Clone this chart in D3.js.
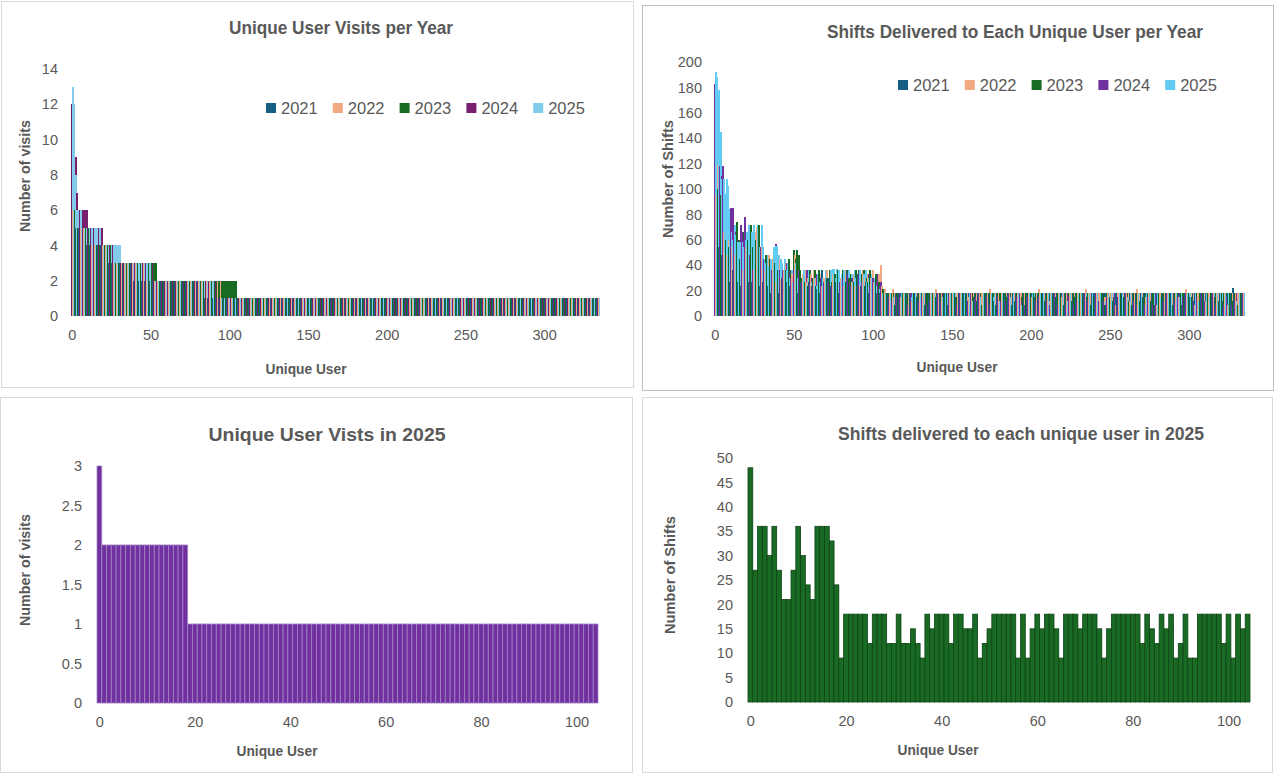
<!DOCTYPE html>
<html>
<head>
<meta charset="utf-8">
<script src="https://cdn.jsdelivr.net/npm/d3@7"></script>
<style>
  body { margin: 0; background: #fff; }
  svg text { fill: #595959; font-family: "Liberation Sans", Arial, sans-serif; }
  .title { font-weight: bold; font-size: 18.5px; }
  .axtitle { font-weight: bold; font-size: 14.5px; }
  .tick text { font-size: 14.5px; }
  .legend text { font-size: 16.5px; }
</style>
</head>
<body>
<svg id="chart" width="1280" height="774"></svg>
<script>
var years = ["2021", "2022", "2023", "2024", "2025"];

// visits per unique user, as [visits, number of users] runs, users sorted high to low
var visitRuns2021 = [[6, 2], [5, 8], [4, 10], [3, 20], [2, 45], [1, 251]];
var visitRuns2022 = [[7, 1], [6, 3], [5, 8], [4, 12], [3, 24], [2, 50], [1, 238]];
var visitRuns2023 = [[9, 1], [8, 1], [6, 2], [5, 10], [4, 14], [3, 26], [2, 51], [1, 231]];
var visitRuns2024 = [[12, 1], [11, 1], [9, 1], [7, 1], [6, 6], [5, 10], [4, 10], [3, 22], [2, 40], [1, 244]];
var visitRuns2025 = [[13, 1], [12, 1], [8, 1], [6, 4], [5, 12], [4, 12], [3, 20], [2, 40], [1, 245]];

// shifts delivered per unique user
var shifts2021 = [
  68, 60, 36, 54, 40, 48, 18, 45, 36, 30,
  27, 45, 36, 40, 30, 27, 36, 24, 30, 27,
  36, 18, 27, 33, 27, 18, 30, 27, 36, 24,
  18, 27, 30, 18, 24, 27, 18, 30, 18, 27,
  24, 18, 27, 30, 18, 21, 27, 18, 24, 30,
  18, 27, 24, 18, 30, 27, 18, 24, 21, 18,
  27, 18, 24, 30, 18, 21, 27, 18, 36, 24,
  18, 27, 30, 18, 24, 33, 18, 27, 21, 18,
  30, 24, 18, 27, 36, 18, 24, 30, 21, 18,
  27, 33, 18, 24, 30, 18, 27, 21, 18, 24,
  18, 27, 21, 18, 24, 18, 15, 18, 12, 18,
  18, 18, 12, 18, 18, 18, 9, 18, 18, 18, 15, 18, 18, 18, 18, 12, 18, 18, 18, 18,
  18, 9, 18, 18, 18, 18, 18, 15, 18, 18, 18, 18, 12, 18, 18, 18, 18, 18, 9, 18,
  18, 18, 18, 15, 18, 18, 18, 18, 18, 12, 18, 18, 18, 18, 9, 18, 18, 18, 18, 18,
  15, 18, 18, 18, 18, 18, 18, 12, 18, 18, 18, 9, 18, 18, 18, 18, 18, 15, 18, 18,
  18, 18, 12, 18, 18, 18, 18, 18, 18, 9, 18, 18, 18, 15, 18, 18, 18, 18, 18, 12,
  18, 18, 18, 18, 9, 18, 18, 18, 18, 18, 15, 18, 18, 18, 18, 12, 18, 18, 18, 18,
  18, 18, 9, 18, 18, 18, 15, 18, 18, 18, 18, 18, 12, 18, 18, 18, 18, 18, 9, 18,
  18, 18, 18, 15, 18, 18, 18, 12, 18, 18, 18, 18, 18, 18, 9, 18, 18, 18, 18, 15,
  18, 18, 18, 18, 12, 18, 18, 18, 18, 9, 18, 18, 18, 18, 18, 15, 18, 18, 18, 18,
  12, 18, 18, 18, 18, 18, 9, 18, 18, 18, 18, 15, 18, 18, 18, 18, 12, 18, 18, 18,
  18, 18, 9, 18, 18, 18, 18, 15, 18, 18, 18, 18, 12, 18, 18, 18, 18, 18, 22, 18,
  18, 18, 12, 18, 18, 18
];
var shifts2022 = [
  125, 95, 120, 78, 72, 60, 66, 54, 48, 60,
  45, 54, 66, 48, 36, 54, 42, 60, 36, 48,
  54, 36, 45, 63, 42, 36, 66, 70, 48, 36,
  54, 45, 36, 42, 48, 36, 30, 45, 36, 27,
  36, 45, 30, 27, 36, 42, 30, 36, 27, 33,
  52, 48, 30, 27, 36, 24, 33, 27, 36, 30,
  24, 33, 27, 36, 30, 24, 27, 33, 24, 30,
  27, 36, 24, 30, 27, 33, 24, 36, 27, 24,
  30, 27, 24, 36, 27, 30, 24, 27, 33, 24,
  30, 36, 24, 27, 36, 30, 24, 33, 27, 30,
  36, 27, 24, 30, 33, 40, 24, 18, 21, 18,
  18, 18, 18, 21, 18, 18, 18, 18, 15, 18, 18, 18, 18, 18, 18, 12, 18, 18, 18, 18,
  18, 18, 18, 18, 9, 18, 18, 18, 18, 18, 21, 18, 18, 18, 18, 18, 15, 18, 18, 18,
  18, 18, 12, 18, 18, 18, 18, 18, 18, 18, 18, 15, 18, 18, 18, 18, 18, 9, 18, 18,
  18, 18, 18, 18, 21, 18, 18, 18, 18, 15, 18, 18, 18, 18, 18, 18, 12, 18, 18, 18,
  18, 18, 18, 18, 18, 9, 18, 18, 18, 18, 18, 15, 18, 18, 18, 21, 18, 18, 18, 18,
  18, 18, 12, 18, 18, 18, 18, 18, 18, 18, 15, 18, 18, 18, 18, 18, 18, 9, 18, 18,
  18, 18, 18, 18, 18, 21, 18, 18, 18, 18, 12, 18, 18, 18, 18, 18, 18, 15, 18, 18,
  18, 18, 18, 18, 9, 18, 18, 18, 18, 18, 18, 18, 18, 12, 18, 18, 18, 21, 18, 18,
  18, 18, 18, 15, 18, 18, 18, 18, 18, 18, 9, 18, 18, 18, 18, 18, 18, 18, 12, 18,
  18, 18, 18, 18, 15, 18, 18, 18, 21, 18, 18, 18, 18, 18, 9, 18, 18, 18, 18, 18,
  18, 12, 18, 18, 18, 18, 18, 15, 18, 18, 18, 18, 18, 18, 18, 9, 18, 18, 18, 18,
  18, 18, 18, 15, 18, 18
];
var shifts2023 = [
  145, 130, 100, 90, 95, 75, 72, 60, 66, 54,
  60, 72, 54, 48, 74, 60, 45, 54, 66, 48,
  54, 60, 45, 72, 54, 48, 60, 45, 72, 54,
  45, 36, 48, 42, 36, 45, 30, 36, 42, 27,
  36, 30, 42, 36, 27, 36, 30, 45, 36, 27,
  52, 45, 52, 48, 36, 30, 36, 27, 30, 24,
  36, 27, 30, 36, 24, 33, 36, 27, 30, 24,
  36, 30, 24, 36, 27, 30, 33, 24, 36, 27,
  30, 36, 24, 27, 36, 30, 33, 24, 27, 36,
  30, 36, 27, 33, 36, 24, 30, 27, 36, 24,
  30, 27, 33, 24, 27, 18, 21, 18, 15, 18,
  18, 12, 18, 18, 9, 18, 18, 15, 18, 18, 12, 18, 18, 18, 9, 18, 18, 18, 15, 18,
  12, 18, 18, 9, 18, 18, 18, 12, 18, 18, 15, 18, 9, 18, 18, 18, 12, 18, 18, 18,
  18, 9, 18, 15, 18, 18, 12, 18, 18, 18, 9, 18, 18, 18, 15, 18, 12, 18, 18, 9,
  18, 18, 18, 12, 18, 15, 18, 18, 9, 18, 18, 18, 12, 18, 18, 15, 18, 18, 9, 18,
  12, 18, 18, 18, 15, 18, 9, 18, 18, 12, 18, 18, 18, 18, 9, 18, 15, 18, 18, 12,
  18, 18, 9, 18, 18, 18, 15, 18, 12, 18, 18, 9, 18, 18, 18, 18, 12, 18, 15, 18,
  9, 18, 18, 18, 12, 18, 18, 18, 9, 18, 15, 18, 18, 12, 18, 18, 18, 9, 18, 18,
  15, 18, 12, 18, 18, 9, 18, 18, 18, 15, 18, 18, 12, 18, 9, 18, 18, 18, 18, 12,
  18, 15, 18, 9, 18, 18, 12, 18, 18, 18, 15, 18, 9, 18, 18, 12, 18, 18, 18, 18,
  9, 18, 15, 18, 12, 18, 18, 18, 9, 18, 18, 18, 15, 12, 18, 18, 9, 18, 18, 18,
  12, 18, 18, 15, 18, 9, 18, 18, 18, 12, 18, 18, 18, 9, 18, 15, 18, 18, 12, 18,
  18, 9, 18, 18, 15, 18
];
var shifts2024 = [
  183, 160, 130, 118, 110, 118, 90, 102, 90, 72,
  85, 85, 72, 66, 60, 54, 72, 66, 60, 78,
  54, 66, 48, 60, 36, 54, 45, 66, 42, 54,
  36, 45, 36, 42, 36, 30, 36, 45, 57, 36,
  45, 36, 27, 36, 30, 42, 27, 36, 30, 27,
  36, 27, 30, 36, 24, 27, 30, 24, 36, 27,
  27, 30, 24, 27, 33, 24, 27, 30, 24, 27,
  30, 24, 27, 33, 24, 30, 27, 24, 30, 27,
  24, 30, 27, 24, 33, 27, 24, 30, 27, 24,
  27, 33, 24, 27, 30, 24, 27, 33, 24, 27,
  30, 24, 27, 33, 24, 27, 18, 15, 18, 12,
  15, 18, 12, 12, 18, 15, 9, 18, 12, 15, 18, 12, 9, 15, 18, 12, 15, 18, 9, 12,
  18, 15, 12, 18, 9, 15, 12, 18, 15, 12, 9, 18, 15, 12, 18, 12, 15, 9, 18, 12,
  15, 18, 12, 9, 15, 18, 12, 15, 9, 18, 12, 15, 18, 12, 9, 15, 12, 18, 15, 9,
  12, 18, 15, 12, 9, 18, 15, 12, 18, 15, 9, 12, 18, 15, 12, 9, 18, 12, 15, 18,
  9, 15, 12, 18, 12, 15, 9, 18, 15, 12, 18, 9, 15, 12, 18, 15, 12, 9, 18, 15,
  12, 18, 9, 15, 12, 18, 15, 9, 12, 18, 15, 12, 9, 18, 15, 12, 18, 9, 15, 12,
  18, 15, 9, 12, 18, 15, 12, 9, 18, 15, 12, 18, 9, 12, 15, 18, 12, 9, 15, 18,
  12, 15, 9, 18, 12, 15, 18, 9, 12, 15, 18, 12, 9, 15, 18, 12, 15, 9, 18, 12,
  15, 18, 9, 12, 15, 18, 12, 9, 15, 18, 12, 15, 9, 18, 12, 15, 18, 9, 12, 15,
  18, 12, 9, 15, 18, 12, 15, 9, 18, 12, 15, 18, 9, 12, 18, 15, 12, 9, 18, 15,
  12, 18, 9, 15, 12, 18, 15, 9, 12, 18, 15, 12, 9, 18, 15, 12, 18, 9, 15, 12,
  18, 15, 9, 12, 18, 15
];
var shifts2025 = [
  192, 188, 178, 145, 108, 108, 96, 108, 102, 84,
  66, 60, 72, 64, 58, 58, 58, 58, 54, 60,
  66, 72, 72, 66, 72, 60, 66, 72, 54, 72,
  54, 45, 42, 48, 39, 45, 42, 54, 55, 55,
  48, 45, 42, 36, 45, 36, 42, 30, 36, 27,
  36, 42, 30, 36, 27, 33, 36, 30, 27, 36,
  30, 27, 36, 30, 24, 33, 27, 36, 30, 27,
  36, 30, 27, 36, 37, 37, 30, 37, 36, 27,
  33, 36, 27, 30, 36, 24, 33, 27, 36, 30,
  27, 36, 30, 24, 33, 36, 27, 30, 24, 33,
  27, 30, 24, 27, 21, 18, 18, 15, 18, 18,
  18, 18, 18, 15, 18, 18, 18, 18, 18, 12, 18, 18, 18, 18, 15, 18, 18, 18, 18, 18,
  18, 15, 18, 18, 18, 18, 18, 18, 12, 18, 18, 18, 18, 18, 15, 18, 18, 18, 18, 18,
  9, 18, 18, 18, 18, 15, 18, 18, 18, 18, 18, 18, 18, 12, 18, 18, 18, 18, 15, 18,
  18, 18, 18, 18, 18, 18, 15, 18, 18, 18, 12, 18, 18, 18, 18, 18, 18, 15, 18, 18,
  18, 18, 18, 18, 9, 18, 18, 18, 15, 18, 18, 18, 18, 18, 18, 12, 18, 18, 18, 18,
  15, 18, 18, 18, 18, 18, 18, 18, 18, 15, 18, 18, 18, 12, 18, 18, 18, 18, 18, 18,
  18, 15, 18, 18, 18, 18, 9, 18, 18, 18, 18, 15, 18, 18, 18, 18, 18, 12, 18, 18,
  18, 18, 18, 15, 18, 18, 18, 18, 18, 18, 18, 15, 18, 18, 12, 18, 18, 18, 18, 18,
  18, 18, 15, 18, 18, 18, 18, 9, 18, 18, 18, 18, 15, 18, 18, 18, 18, 18, 12, 18,
  18, 18, 18, 18, 15, 18, 18, 18, 18, 18, 18, 18, 15, 18, 18, 18, 12, 18, 18, 18,
  18, 18, 18, 15, 18, 18, 18, 18, 18, 9, 18, 18, 18, 18, 15, 18, 18, 18, 18, 18,
  12, 18, 18, 18, 15, 18
];

// 2025 only
var visitRuns2025Users = [[3, 1], [2, 18], [1, 86]];
var shifts2025Users = [
  48, 27, 36, 36, 30, 36, 27, 21, 21, 27, 36, 30, 24, 21, 36, 36, 36, 33, 24, 9,
  18, 18, 18, 18, 18, 12, 18, 18, 18, 12, 12, 18, 12, 12, 15, 12, 9, 18, 15, 18,
  18, 18, 12, 18, 18, 15, 15, 18, 9, 12, 15, 18, 18, 18, 18, 18, 9, 18, 9, 15,
  18, 15, 18, 18, 15, 9, 18, 18, 18, 15, 18, 18, 18, 15, 9, 15, 18, 18, 18, 18,
  18, 18, 12, 18, 15, 12, 18, 15, 18, 9, 12, 18, 9, 9, 18, 18, 18, 18, 18, 12,
  18, 9, 18, 15, 18
];

var visitColors = ["#156082", "#F1A983", "#196B24", "#78206E", "#83CBEB"];
var shiftColors = ["#156082", "#F1A983", "#196B24", "#7030A0", "#61CBF3"];

var svg = d3.select("#chart");

function expandRuns(runs) {
  var out = [];
  runs.forEach(function (r) {
    for (var i = 0; i < r[1]; i++) out.push(r[0]);
  });
  return out;
}

function frame(x, y, w, h, stroke) {
  svg.append("rect")
    .attr("x", x).attr("y", y).attr("width", w).attr("height", h)
    .attr("fill", "#fff").attr("stroke", stroke).attr("stroke-width", 1);
}

// the source uses a narrow bold face; squeeze the bold sans to the same widths
function label(cls, x, y, txt, len, rotate) {
  var t = svg.append("text").attr("class", cls)
    .attr("text-anchor", "middle").attr("dy", "0.35em")
    .attr("textLength", len).attr("lengthAdjust", "spacingAndGlyphs")
    .text(txt);
  if (rotate) t.attr("transform", "translate(" + x + "," + y + ") rotate(-90)");
  else t.attr("x", x).attr("y", y);
}

function labels(p) {
  label("title", p.titleX, p.titleY, p.title, p.titleLen);
  label("axtitle", p.yTitleX, p.yTitleY, p.yTitle, p.yTitleLen, true);
  label("axtitle", p.xTitleX, p.xTitleY, "Unique User", 81);
}

// x labels sit at the centre of each user's band, so a linear scale over -0.5..n-0.5 lines up
function axes(n, xRange, yScale, xTicks, yTicks, yFmt, yPad) {
  var xl = d3.scaleLinear().domain([-0.5, n - 0.5]).range(xRange);
  var bottom = yScale.range()[0];
  var gx = svg.append("g")
    .attr("transform", "translate(0," + bottom + ")")
    .call(d3.axisBottom(xl).tickValues(xTicks).tickSize(0).tickPadding(14).tickFormat(d3.format("d")));
  gx.select(".domain").remove();
  var gy = svg.append("g")
    .attr("transform", "translate(" + xRange[0] + ",0)")
    .call(d3.axisLeft(yScale).tickValues(yTicks).tickSize(0).tickPadding(yPad).tickFormat(yFmt));
  gy.select(".domain").remove();
  svg.selectAll(".tick text").attr("fill", "#595959").attr("font-family", null).attr("font-size", null);
}

function legend(x0, y, step, colors) {
  var g = svg.append("g").attr("class", "legend");
  years.forEach(function (yr, i) {
    g.append("rect").attr("x", x0 + i * step).attr("y", y - 5).attr("width", 10).attr("height", 10)
      .attr("fill", colors[i]);
    g.append("text").attr("x", x0 + i * step + 15).attr("y", y).attr("dy", "0.36em").text(yr);
  });
}

function clustered(p) {
  var nUsers = d3.max(p.series, function (s) { return s.length; });
  var x0 = d3.scaleBand().domain(d3.range(nUsers)).range(p.xRange).padding(0);
  var x1 = d3.scaleBand().domain(years).range([0, x0.bandwidth()]);
  var y = d3.scaleLinear().domain([0, p.yMax]).range(p.yRange);

  // one row per (user, year), user-major so neighbouring years interleave like the source
  var rows = [];
  d3.range(nUsers).forEach(function (u) {
    p.series.forEach(function (vals, i) {
      if (u < vals.length) rows.push({ u: u, k: i, v: vals[u] });
    });
  });

  // sub-bars are a third of a pixel wide; widen them so each one is actually drawn
  var xRight = p.xRange[1];
  svg.append("g").attr("shape-rendering", "crispEdges")
    .selectAll("rect")
    .data(rows)
    .join("rect")
    .attr("x", function (d) { return Math.floor(x0(d.u) + x1(years[d.k])); })
    .attr("width", function (d) {
      var x = Math.floor(x0(d.u) + x1(years[d.k]));
      return Math.min(2, xRight - x);
    })
    .attr("y", function (d) { return Math.round(y(d.v)); })
    .attr("height", function (d) { return Math.round(y(0)) - Math.round(y(d.v)); })
    .attr("fill", function (d) { return p.colors[d.k]; });

  axes(nUsers, p.xRange, y, p.xTicks, p.yTicks, d3.format("d"), p.yPad);
}

function single(p) {
  var x = d3.scaleBand().domain(d3.range(p.values.length)).range(p.xRange).padding(0);
  var y = d3.scaleLinear().domain([0, p.yMax]).range(p.yRange);
  svg.append("g")
    .selectAll("rect")
    .data(p.values)
    .join("rect")
    .attr("x", function (d, i) { return x(i); })
    .attr("width", x.bandwidth())
    .attr("y", function (d) { return y(d); })
    .attr("height", function (d) { return y(0) - y(d); })
    .attr("fill", p.fill)
    .attr("stroke", p.stroke)
    .attr("stroke-width", 0.8);
  axes(p.values.length, p.xRange, y, p.xTicks, p.yTicks, p.yFmt, p.yPad);
}

// panels
frame(1.5, 1.5, 632, 386, "#d9d9d9");
frame(642.5, 5.5, 631, 385, "#bfbfbf");
frame(0.5, 397.5, 632, 375, "#d9d9d9");
frame(642.5, 397.5, 630, 375, "#d9d9d9");

// top left: visits per year
clustered({
  series: [visitRuns2021, visitRuns2022, visitRuns2023, visitRuns2024, visitRuns2025].map(expandRuns),
  colors: visitColors,
  xRange: [71, 600], yRange: [316, 69], yMax: 14,
  xTicks: d3.range(0, 301, 50), yTicks: d3.range(0, 15, 2), yPad: 13
});
labels({
  title: "Unique User Visits per Year", titleX: 341, titleY: 28, titleLen: 224,
  yTitle: "Number of visits", yTitleX: 25, yTitleY: 176, yTitleLen: 112,
  xTitleX: 306, xTitleY: 369
});
legend(266, 108, 66.8, visitColors);

// top right: shifts per year
clustered({
  series: [shifts2021, shifts2022, shifts2023, shifts2024, shifts2025],
  colors: shiftColors,
  xRange: [714, 1245], yRange: [316, 62], yMax: 200,
  xTicks: d3.range(0, 301, 50), yTicks: d3.range(0, 201, 20), yPad: 12
});
labels({
  title: "Shifts Delivered to Each Unique User per Year", titleX: 1015, titleY: 32, titleLen: 376,
  yTitle: "Number of Shifts", yTitleX: 668, yTitleY: 179, yTitleLen: 118,
  xTitleX: 957, xTitleY: 367
});
legend(898, 85, 66.8, shiftColors);

// bottom left: 2025 visits
single({
  values: expandRuns(visitRuns2025Users),
  fill: "#7030A0", stroke: "#A283C6",
  xRange: [97, 598], yRange: [703, 466], yMax: 3,
  xTicks: d3.range(0, 101, 20), yTicks: d3.range(0, 3.01, 0.5), yFmt: d3.format("~g"), yPad: 15
});
labels({
  title: "Unique User Vists in 2025", titleX: 327, titleY: 435, titleLen: 237,
  yTitle: "Number of visits", yTitleX: 25, yTitleY: 570, yTitleLen: 112,
  xTitleX: 277, xTitleY: 751
});

// bottom right: 2025 shifts
single({
  values: shifts2025Users,
  fill: "#196B24", stroke: "#0E4216",
  xRange: [748, 1250], yRange: [702, 458], yMax: 50,
  xTicks: d3.range(0, 101, 20), yTicks: d3.range(0, 51, 5), yFmt: d3.format("d"), yPad: 15
});
labels({
  title: "Shifts delivered to each unique user in 2025", titleX: 1021, titleY: 434, titleLen: 366,
  yTitle: "Number of Shifts", yTitleX: 670, yTitleY: 575, yTitleLen: 118,
  xTitleX: 938, xTitleY: 750
});
</script>
</body>
</html>
